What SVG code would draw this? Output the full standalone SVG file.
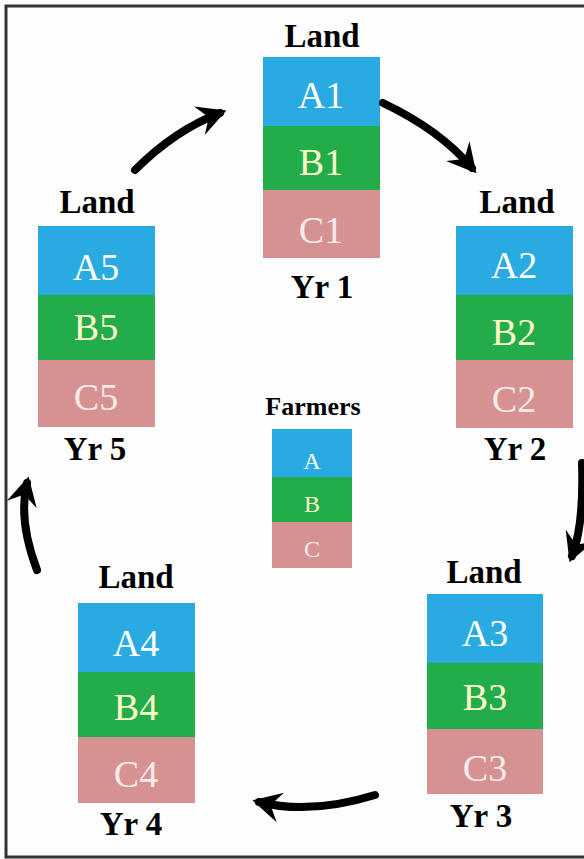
<svg xmlns="http://www.w3.org/2000/svg" width="584" height="859" viewBox="0 0 584 859">
<style>
.bg{fill:#fdfdfd}
.frame{fill:none;stroke:#333;stroke-width:3}
.a{fill:#29abe2}.b{fill:#22ad4a}.c{fill:#d69292}
.hd{font-family:"Liberation Serif",serif;font-weight:bold;font-size:33px;fill:#000;text-anchor:middle}
.lb{font-family:"Liberation Serif",serif;font-size:38px;text-anchor:middle}
.ta{fill:#ffffff}.tb{fill:#fdf8c8}.tc{fill:#f7eaea}
.fh{font-family:"Liberation Serif",serif;font-weight:bold;font-size:26px;fill:#000;text-anchor:middle}
.fl{font-family:"Liberation Serif",serif;font-size:24px;text-anchor:middle}
.arr{fill:none;stroke:#000;stroke-width:8;stroke-linecap:round}
</style>
<defs>
<marker id="ah" markerUnits="userSpaceOnUse" markerWidth="34" markerHeight="34" refX="13" refY="10" orient="auto" viewBox="0 0 20 20">
<path d="M0,1 L17,10 L0,19 L6,10 Z" fill="#000"/>
</marker>
</defs>
<rect class="bg" x="0" y="0" width="584" height="859"/>
<path class="frame" d="M584,6 H6 V857 H584"/>

<g id="yr1">
<text class="hd" x="322" y="47">Land</text>
<rect class="a" x="263" y="57" width="117" height="69"/>
<rect class="b" x="263" y="126" width="117" height="64"/>
<rect class="c" x="263" y="190" width="117" height="68"/>
<text class="lb ta" x="321" y="108">A1</text>
<text class="lb tb" x="321" y="175">B1</text>
<text class="lb tc" x="321" y="243">C1</text>
<text class="hd" x="322" y="298">Yr 1</text>
</g>

<g id="yr2">
<text class="hd" x="517" y="213">Land</text>
<rect class="a" x="456" y="226" width="117" height="69"/>
<rect class="b" x="456" y="295" width="117" height="65"/>
<rect class="c" x="456" y="360" width="117" height="68"/>
<text class="lb ta" x="514" y="278">A2</text>
<text class="lb tb" x="514" y="345">B2</text>
<text class="lb tc" x="514" y="412">C2</text>
<text class="hd" x="515" y="460">Yr 2</text>
</g>

<g id="yr3">
<text class="hd" x="484" y="583">Land</text>
<rect class="a" x="427" y="594" width="116" height="69"/>
<rect class="b" x="427" y="663" width="116" height="66"/>
<rect class="c" x="427" y="729" width="116" height="65"/>
<text class="lb ta" x="485" y="646">A3</text>
<text class="lb tb" x="485" y="710">B3</text>
<text class="lb tc" x="485" y="781">C3</text>
<text class="hd" x="481" y="827">Yr 3</text>
</g>

<g id="yr4">
<text class="hd" x="136" y="588">Land</text>
<rect class="a" x="78" y="603" width="117" height="69"/>
<rect class="b" x="78" y="672" width="117" height="65"/>
<rect class="c" x="78" y="737" width="117" height="66"/>
<text class="lb ta" x="136" y="656">A4</text>
<text class="lb tb" x="136" y="720">B4</text>
<text class="lb tc" x="136" y="787">C4</text>
<text class="hd" x="131" y="835">Yr 4</text>
</g>

<g id="yr5">
<text class="hd" x="97" y="213">Land</text>
<rect class="a" x="38" y="226" width="117" height="69"/>
<rect class="b" x="38" y="295" width="117" height="65"/>
<rect class="c" x="38" y="360" width="117" height="67"/>
<text class="lb ta" x="96" y="280">A5</text>
<text class="lb tb" x="96" y="340">B5</text>
<text class="lb tc" x="96" y="410">C5</text>
<text class="hd" x="95" y="460">Yr 5</text>
</g>

<g id="farmers">
<text class="fh" x="313" y="415">Farmers</text>
<rect class="a" x="272" y="429" width="80" height="48"/>
<rect class="b" x="272" y="477" width="80" height="45"/>
<rect class="c" x="272" y="522" width="80" height="46"/>
<text class="fl ta" x="312" y="469">A</text>
<text class="fl tb" x="312" y="512">B</text>
<text class="fl tc" x="312" y="557">C</text>
</g>

<g id="connectors">
<path class="arr" marker-end="url(#ah)" d="M135,170 Q175,130 220,113"/>
<path class="arr" marker-end="url(#ah)" d="M383,103 Q440,130 472,168"/>
<path class="arr" marker-end="url(#ah)" d="M582,463 Q584,525 572,556"/>
<path class="arr" marker-end="url(#ah)" d="M375,795 Q310,815 259,802"/>
<path class="arr" marker-end="url(#ah)" d="M37,570 Q18,520 27,483"/>
</g>
</svg>
